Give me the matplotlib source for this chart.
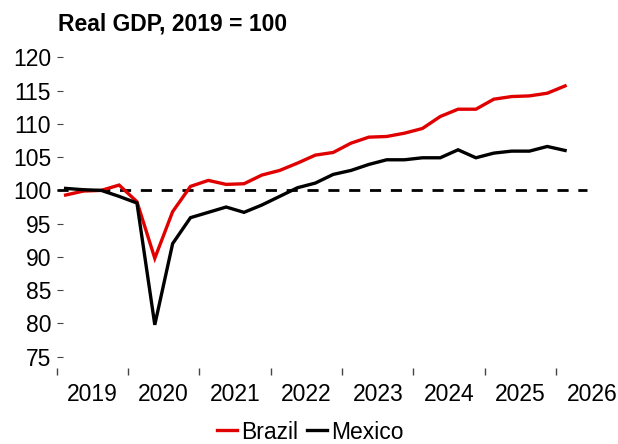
import matplotlib
matplotlib.use("Agg")
import matplotlib.pyplot as plt
import numpy as np

plt.rcParams['font.family'] = ['Liberation Sans', 'DejaVu Sans']

# quarterly real GDP index, 2019Q1 .. 2026Q1
quarters = [f"{y}Q{q}" for y in range(2019, 2027) for q in range(1, 5)][:29]
brazil = [99.3, 99.9, 100.0, 100.8, 98.3, 89.8, 96.8, 100.6, 101.5, 100.9,
          101.0, 102.3, 103.0, 104.1, 105.3, 105.7, 107.1, 108.0, 108.1, 108.6,
          109.3, 111.1, 112.2, 112.2, 113.7, 114.1, 114.2, 114.6, 115.7]
mexico = [100.3, 100.1, 100.0, 99.1, 98.1, 79.8, 92.0, 95.9, 96.7, 97.5,
          96.7, 97.8, 99.1, 100.4, 101.1, 102.4, 103.0, 103.9, 104.6, 104.6,
          104.9, 104.9, 106.1, 104.9, 105.6, 105.9, 105.9, 106.6, 106.0]
years = list(range(2019, 2027))

# quarter midpoints in fractional years
x = np.array([int(s[:4]) + (int(s[-1]) - 0.5) / 4 for s in quarters])

fs = 16.5
fig = plt.figure(figsize=(6.18, 4.44), dpi=100)
ax = fig.add_axes([0.0917, 0.171, 0.866, 0.716])

ax.axhline(100, xmax=0.99, color='black', lw=2, ls=(0, (4, 3.5)))
ax.plot(x, brazil, color='#e00000', lw=2.4, label='Brazil', solid_joinstyle='miter')
ax.plot(x, mexico, color='black', lw=2.4, label='Mexico', solid_joinstyle='miter')

ax.set_xlim(2019, 2026.5)
ax.set_ylim(73.3, 121.07)
ax.set_yticks(range(75, 121, 5))

ax.set_xticks(years)
ax.set_xticklabels([])
ax.set_xticks([y + 0.5 for y in years], minor=True)
ax.set_xticklabels([str(y) for y in years], minor=True)
ax.tick_params(axis='x', which='major', direction='out', length=5, width=1, color='#444444')
ax.tick_params(axis='x', which='minor', length=0, pad=11, labelsize=fs)
ax.tick_params(axis='y', direction='in', length=4, width=0.8, color='#444444',
               pad=4, labelsize=fs)

for s in ax.spines.values():
    s.set_visible(False)

fig.text(58 / 618, 1 - 24 / 444, 'Real GDP, 2019 = 100', fontsize=fs,
         fontweight='bold', ha='left', va='center')

fig.legend(loc='center', bbox_to_anchor=(310 / 618, 1 - 432 / 444), ncol=2,
           frameon=False, fontsize=fs, handlelength=0.9, handletextpad=0.15,
           columnspacing=0.4, borderpad=0.1)

fig.savefig('out.png', dpi=100)
